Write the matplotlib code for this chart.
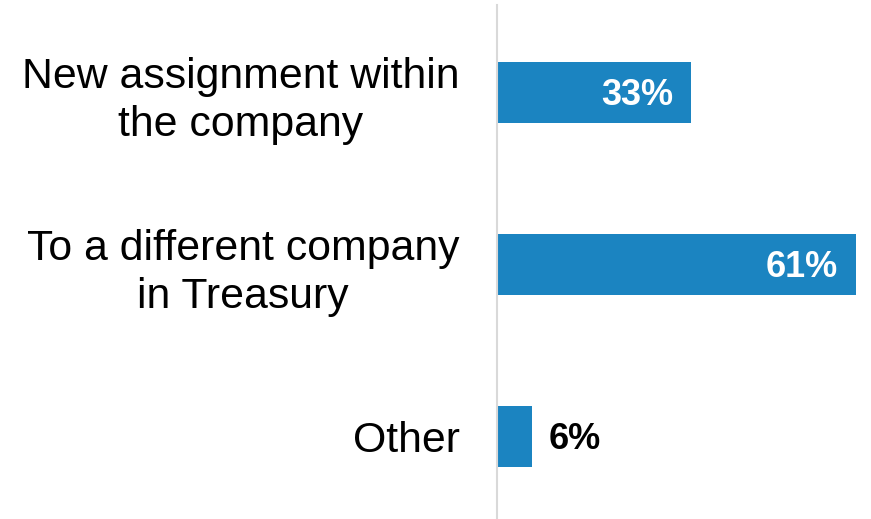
import matplotlib.pyplot as plt

plt.rcParams['font.family'] = ['Liberation Sans', 'DejaVu Sans']

categories = ['New assignment within\nthe company',
              'To a different company\nin Treasury',
              'Other']
values = [33, 61, 6]
bar_color = '#1B84C1'

fig = plt.figure(figsize=(8.71, 5.19), dpi=100)
ax = fig.add_axes([497 / 871, 0, (856 - 497) / 871, 514 / 519])

pos = list(range(len(categories)))
ax.barh(pos, values, height=0.355, color=bar_color)
ax.set_xlim(0, 61)
ax.set_ylim(2.48, -0.509)

ax.set_yticks(pos)
ax.set_yticklabels(categories, fontsize=30.8, multialignment='center',
                   linespacing=1.25)
ax.tick_params(axis='y', length=0, pad=27)
ax.set_xticks([])

for s in ['top', 'right', 'bottom']:
    ax.spines[s].set_visible(False)
ax.spines['left'].set_color('#D9D9D9')
ax.spines['left'].set_linewidth(1.5)

# labels: inside the bar when it is wide enough, else just outside
for i, v in enumerate(values):
    if v > 15:
        ax.annotate(f'{v}%', (v, i), xytext=(-13, -2), textcoords='offset points',
                    ha='right', va='center', color='white', fontsize=26,
                    fontweight='bold')
    else:
        ax.annotate(f'{v}%', (v, i), xytext=(11.5, -2), textcoords='offset points',
                    ha='left', va='center', color='black', fontsize=26,
                    fontweight='bold')

fig.savefig('out.png', dpi=100)
